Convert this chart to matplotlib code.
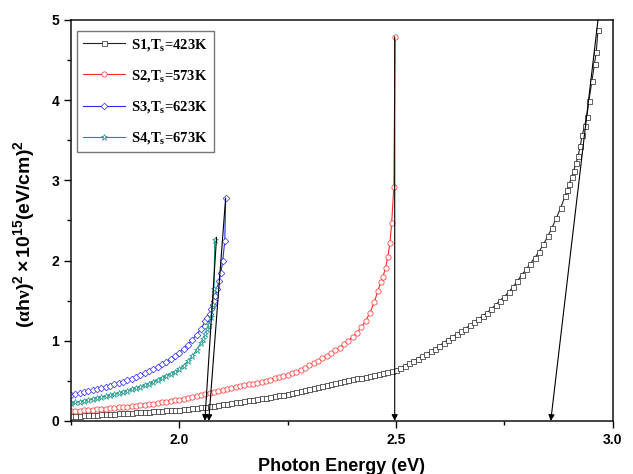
import matplotlib
matplotlib.use('Agg')
import matplotlib.pyplot as plt
from matplotlib.ticker import MultipleLocator

plt.rcParams['font.family'] = ['Liberation Sans', 'DejaVu Sans']
plt.rcParams['mathtext.fontset'] = 'custom'
plt.rcParams['mathtext.rm'] = 'Liberation Serif:bold'
plt.rcParams['mathtext.bf'] = 'Liberation Serif:bold'
plt.rcParams['mathtext.it'] = 'Liberation Serif:bold'
plt.rcParams['mathtext.sf'] = 'Liberation Sans:bold'

# S1, Ts=423K  (photon energy in eV, (alpha h nu)^2 in 1e15 (eV/cm)^2)
e1 = [1.75, 1.76, 1.77, 1.78, 1.79, 1.80, 1.81, 1.82, 1.83, 1.84, 1.85, 1.86, 1.87,
      1.88, 1.89, 1.90, 1.91, 1.92, 1.93, 1.94, 1.95, 1.96, 1.97, 1.98, 1.99, 2.00,
      2.01, 2.02, 2.03, 2.04, 2.05, 2.06, 2.07, 2.08, 2.09, 2.10, 2.11, 2.12, 2.13,
      2.14, 2.15, 2.16, 2.17, 2.18, 2.19, 2.20, 2.21, 2.22, 2.23, 2.24, 2.25, 2.26,
      2.27, 2.28, 2.29, 2.30, 2.31, 2.32, 2.33, 2.34, 2.35, 2.36, 2.37, 2.38, 2.39,
      2.40, 2.41, 2.42, 2.43, 2.44, 2.45, 2.46, 2.47, 2.48, 2.49, 2.50, 2.51, 2.52,
      2.53, 2.54, 2.55, 2.56, 2.57, 2.58, 2.59, 2.60, 2.61, 2.62, 2.63, 2.64, 2.65,
      2.66, 2.67, 2.68, 2.69, 2.70, 2.71, 2.72, 2.73, 2.74, 2.75, 2.76, 2.77, 2.78,
      2.79, 2.80, 2.81, 2.82, 2.83, 2.84, 2.85, 2.86, 2.87, 2.88, 2.89, 2.895, 2.90,
      2.905, 2.91, 2.915, 2.92, 2.925, 2.93, 2.935, 2.94, 2.945, 2.952, 2.958, 2.962,
      2.966]
a1 = [.060, .063, .066, .069, .072, .075, .078, .081, .084, .087, .090, .093, .096,
      .099, .102, .105, .109, .112, .116, .119, .123, .126, .130, .133, .137, .141,
      .145, .150, .156, .162, .169, .176, .183, .191, .199, .207, .215, .223, .231,
      .239, .247, .255, .263, .272, .281, .290, .299, .308, .318, .329, .340, .351,
      .362, .374, .386, .398, .410, .422, .435, .447, .460, .472, .485, .497, .509,
      .520, .531, .541, .552, .562, .573, .584, .596, .609, .622, .640, .660, .688,
      .718, .748, .778, .806, .835, .866, .900, .937, .975, 1.012, 1.050, 1.082, 1.115,
      1.152, 1.190, 1.230, 1.270, 1.310, 1.350, 1.398, 1.450, 1.500, 1.550, 1.608, 1.670, 1.745,
      1.820, 1.890, 1.960, 2.035, 2.110, 2.200, 2.300, 2.410, 2.530, 2.660, 2.800, 2.880, 2.960,
      3.040, 3.120, 3.210, 3.300, 3.430, 3.570, 3.680, 3.790, 3.990, 4.240, 4.450, 4.600,
      4.880]

# S2, Ts=573K
e2 = [1.75, 1.76, 1.77, 1.78, 1.79, 1.80, 1.81, 1.82, 1.83, 1.84, 1.85, 1.86, 1.87,
      1.88, 1.89, 1.90, 1.91, 1.92, 1.93, 1.94, 1.95, 1.96, 1.97, 1.98, 1.99, 2.00,
      2.01, 2.02, 2.03, 2.04, 2.05, 2.06, 2.07, 2.08, 2.09, 2.10, 2.11, 2.12, 2.13,
      2.14, 2.15, 2.16, 2.17, 2.18, 2.19, 2.20, 2.21, 2.22, 2.23, 2.24, 2.25, 2.26,
      2.27, 2.28, 2.29, 2.30, 2.31, 2.32, 2.33, 2.34, 2.35, 2.36, 2.37, 2.38, 2.39,
      2.40, 2.41, 2.42, 2.43, 2.44, 2.45, 2.458, 2.465, 2.470, 2.476, 2.481, 2.486,
      2.490, 2.495, 2.498]
a2 = [.120, .124, .128, .132, .136, .140, .145, .149, .154, .159, .164, .169, .174,
      .179, .185, .190, .196, .202, .208, .215, .222, .230, .238, .247, .256, .265,
      .275, .285, .295, .306, .318, .330, .342, .355, .368, .381, .394, .407, .420,
      .432, .444, .455, .466, .478, .490, .502, .515, .530, .545, .561, .578, .596,
      .615, .638, .665, .692, .720, .750, .780, .812, .845, .880, .915, .955, 1.000,
      1.048, 1.100, 1.170, 1.250, 1.350, 1.480, 1.620, 1.730, 1.800, 1.910, 2.040, 2.220,
      2.470, 2.920, 4.790]

# S3, Ts=623K
e3 = [1.75, 1.76, 1.77, 1.78, 1.79, 1.80, 1.81, 1.82, 1.83, 1.84, 1.85, 1.86, 1.87,
      1.88, 1.89, 1.90, 1.91, 1.92, 1.93, 1.94, 1.95, 1.96, 1.97, 1.98, 1.99, 2.00,
      2.01, 2.02, 2.03, 2.04, 2.05, 2.06, 2.065, 2.07, 2.074, 2.077, 2.080, 2.083,
      2.087, 2.091, 2.096, 2.100, 2.105, 2.107]
a3 = [.320, .332, .345, .357, .370, .383, .397, .411, .425, .440, .455, .472, .490,
      .509, .528, .548, .570, .594, .620, .647, .675, .706, .740, .774, .810, .852,
      .900, .952, 1.010, 1.075, 1.150, 1.240, 1.285, 1.330, 1.390, 1.450, 1.500, 1.560,
      1.640, 1.740, 1.850, 1.990, 2.240, 2.780]

# S4, Ts=673K
e4 = [1.75, 1.76, 1.77, 1.78, 1.79, 1.80, 1.81, 1.82, 1.83, 1.84, 1.85, 1.86, 1.87,
      1.88, 1.89, 1.90, 1.91, 1.92, 1.93, 1.94, 1.95, 1.96, 1.97, 1.98, 1.99, 2.00,
      2.01, 2.02, 2.03, 2.04, 2.05, 2.055, 2.06, 2.064, 2.068, 2.073, 2.077, 2.080,
      2.082]
a4 = [.220, .230, .240, .250, .260, .271, .282, .293, .305, .317, .330, .345, .360,
      .376, .392, .408, .425, .444, .465, .490, .515, .540, .565, .590, .615, .645,
      .690, .745, .810, .880, .970, 1.020, 1.080, 1.140, 1.200, 1.300, 1.450, 1.650,
      2.260]

labels = ['S1,T$_\\mathbf{s}$=423K', 'S2,T$_\\mathbf{s}$=573K',
          'S3,T$_\\mathbf{s}$=623K', 'S4,T$_\\mathbf{s}$=673K']
colors = ['#222222', '#ff2a2a', '#2a2aff', '#139488']
markers = ['s', 'o', 'D', '*']
msizes = [3.6, 3.8, 3.4, 4.6]

# tangent lines (top point -> band gap on the x axis)
tan_top = [(2.966, 5.0), (2.497, 4.79), (2.107, 2.78), (2.086, 2.29)]
tan_gap = [2.857, 2.497, 2.068, 2.059]

fig = plt.figure(figsize=(6.33, 4.74), dpi=100)
ax = fig.add_axes([0.112, 0.112, 0.856, 0.846])

data = [(e1, a1), (e2, a2), (e3, a3), (e4, a4)]
for (x, y), lab, c, m, ms in zip(data, labels, colors, markers, msizes):
    ax.plot(x, y, color=c, lw=0.8, marker=m, ms=ms, mfc='white', mec=c,
            mew=0.5, label=lab)

for (xt, yt), xg in zip(tan_top, tan_gap):
    ax.annotate('', xy=(xg, 0), xytext=(xt, yt),
                arrowprops=dict(arrowstyle='-|>', color='black', lw=0.8,
                                mutation_scale=9, shrinkA=0, shrinkB=0))

ax.set_xlim(1.75, 3.0)
ax.set_ylim(0, 5)
ax.xaxis.set_major_locator(MultipleLocator(0.5))
ax.xaxis.set_minor_locator(MultipleLocator(0.25))
ax.yaxis.set_major_locator(MultipleLocator(1))
ax.yaxis.set_minor_locator(MultipleLocator(0.5))
ax.set_xticks([2.0, 2.5, 3.0])
ax.set_xticklabels(['2.0', '2.5', '3.0'])
ax.tick_params(which='major', direction='out', length=5, width=1, labelsize=10)
ax.tick_params(which='minor', direction='out', length=3, width=1)
for t in ax.get_xticklabels() + ax.get_yticklabels():
    t.set_fontweight('bold')
for s in ax.spines.values():
    s.set_linewidth(1.1)
    s.set_color('#111111')

ax.set_xlabel('Photon Energy (eV)', fontsize=13, fontweight='bold', labelpad=8)
ax.set_ylabel(r'$\mathsf{(}\alpha\mathsf{h}\nu\mathsf{)^{2}\times10^{15}(eV/cm)^{2}}$',
              fontsize=14)
ax.yaxis.set_label_coords(-0.062, 0.466)

leg = ax.legend(loc='upper left', bbox_to_anchor=(0.011, 0.973), borderaxespad=0,
                frameon=True, fancybox=False, handlelength=2.9, handletextpad=0.4,
                labelspacing=1.05,
                prop={'family': 'Liberation Serif', 'weight': 'bold', 'size': 10.5})
leg.get_frame().set_edgecolor('#555555')
leg.get_frame().set_linewidth(1.0)

fig.savefig('out.png', dpi=100)
